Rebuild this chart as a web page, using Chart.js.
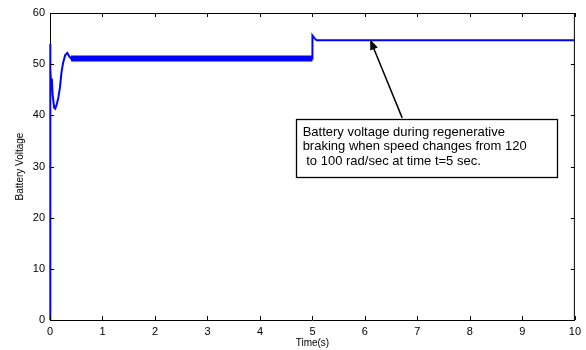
<!DOCTYPE html>
<html>
<head>
<meta charset="utf-8">
<script src="https://cdn.jsdelivr.net/npm/chart.js@4.4.0/dist/chart.umd.min.js"></script>
<style>
  html, body { margin: 0; padding: 0; background: #fff; }
  #wrap { width: 586px; height: 350px; }
</style>
</head>
<body>
<div id="wrap"><canvas id="grafico" width="586" height="350"></canvas></div>
<script>
// Datos
const tiempo  = [0, 0.002, 0.01, 0.02, 0.035, 0.05, 0.08, 0.1, 0.13, 0.16, 0.19, 0.22, 0.25, 0.29, 0.33, 0.36, 0.4, 5.0, 5.0, 5.03, 5.08, 10];
const voltaje = [0, 54, 49, 46.4, 47.2, 44, 41.5, 41.3, 42.2, 43.5, 45.5, 48.5, 50.3, 51.8, 52.2, 51.6, 51.1, 51.1, 55.6, 55.2, 54.65, 54.65];

// banda de rizado entre 0.4 y 5 s
const tiempoRizado  = [0.4, 5.0];
const voltajeRizado = [51.1, 51.1];

const ticksX = [0, 1, 2, 3, 4, 5, 6, 7, 8, 9, 10];
const ticksY = [0, 10, 20, 30, 40, 50, 60];

const textoNota = [
    'Battery voltage during regenerative',
    'braking when speed changes from 120',
    ' to 100 rad/sec at time t=5 sec.'
];
// posicion de la nota y la flecha en unidades de datos
const cajaNota = { x0: 4.68, x1: 9.66, y0: 39.3, y1: 28.0 };
const flecha = { desde: [6.71, 39.5], hasta: [6.1, 54.8] };

const FUENTE = "'Liberation Sans', Arial, sans-serif";

// Marco superior/derecho, ticks hacia dentro y la nota con flecha
const marcoPlugin = {
    id: 'marco',
    afterDatasetsDraw(chart) {
        const { ctx, chartArea: a, scales: { x, y } } = chart;
        ctx.save();
        ctx.strokeStyle = '#000';
        ctx.lineWidth = 1;
        ctx.beginPath();
        ctx.moveTo(a.left, a.top + 0.5);
        ctx.lineTo(a.right, a.top + 0.5);
        ctx.moveTo(a.right - 0.5, a.top);
        ctx.lineTo(a.right - 0.5, a.bottom);
        ticksX.forEach(v => {
            const px = Math.round(x.getPixelForValue(v)) + 0.5;
            ctx.moveTo(px, a.bottom); ctx.lineTo(px, a.bottom - 4);
            ctx.moveTo(px, a.top); ctx.lineTo(px, a.top + 4);
        });
        ticksY.forEach(v => {
            const py = Math.round(y.getPixelForValue(v)) + 0.5;
            ctx.moveTo(a.left, py); ctx.lineTo(a.left + 4, py);
            ctx.moveTo(a.right, py); ctx.lineTo(a.right - 4, py);
        });
        ctx.stroke();

        // nota
        const bx0 = x.getPixelForValue(cajaNota.x0), bx1 = x.getPixelForValue(cajaNota.x1);
        const by0 = y.getPixelForValue(cajaNota.y0), by1 = y.getPixelForValue(cajaNota.y1);
        ctx.fillStyle = '#fff';
        ctx.fillRect(bx0, by0, bx1 - bx0, by1 - by0);
        ctx.lineWidth = 1.3;
        ctx.strokeRect(Math.round(bx0) + 0.5, Math.round(by0) + 0.5, Math.round(bx1 - bx0), Math.round(by1 - by0));
        ctx.fillStyle = '#000';
        ctx.font = '13px ' + FUENTE;
        ctx.textBaseline = 'middle';
        textoNota.forEach((t, i) => ctx.fillText(t, bx0 + 7, by0 + 13.5 + i * 14.5));

        // flecha
        const fx0 = x.getPixelForValue(flecha.desde[0]), fy0 = y.getPixelForValue(flecha.desde[1]);
        const fx1 = x.getPixelForValue(flecha.hasta[0]), fy1 = y.getPixelForValue(flecha.hasta[1]);
        const ang = Math.atan2(fy1 - fy0, fx1 - fx0);
        ctx.lineWidth = 1.5;
        ctx.beginPath();
        ctx.moveTo(fx0, fy0);
        ctx.lineTo(fx1 - 6 * Math.cos(ang), fy1 - 6 * Math.sin(ang));
        ctx.stroke();
        ctx.beginPath();
        ctx.moveTo(fx1, fy1);
        ctx.lineTo(fx1 - 11 * Math.cos(ang - 0.38), fy1 - 11 * Math.sin(ang - 0.38));
        ctx.lineTo(fx1 - 11 * Math.cos(ang + 0.38), fy1 - 11 * Math.sin(ang + 0.38));
        ctx.closePath();
        ctx.fill();
        ctx.restore();
    }
};

new Chart(document.getElementById('grafico').getContext('2d'), {
    type: 'line',
    data: {
        datasets: [
            {
                label: 'Battery Voltage',
                data: tiempo.map((t, i) => ({ x: t, y: voltaje[i] })),
                borderColor: '#0000ff',
                borderWidth: 2,
                pointRadius: 0,
                tension: 0,
                clip: 4
            },
            {
                label: 'rizado',
                data: tiempoRizado.map((t, i) => ({ x: t, y: voltajeRizado[i] })),
                borderColor: '#0000ff',
                borderWidth: 6,
                pointRadius: 0,
                tension: 0
            }
        ]
    },
    options: {
        responsive: false,
        animation: false,
        devicePixelRatio: 1,
        layout: { padding: { top: 13, right: 7, left: 0, bottom: 0 } },
        plugins: {
            legend: { display: false },
            tooltip: { enabled: false }
        },
        scales: {
            x: {
                type: 'linear',
                min: 0,
                max: 10,
                afterFit: s => { s.height = 30; },
                afterBuildTicks: s => { s.ticks = ticksX.map(v => ({ value: v })); },
                grid: { drawOnChartArea: false, drawTicks: false },
                border: { display: true, color: '#000', width: 1 },
                ticks: { padding: 5, color: '#000', font: { family: FUENTE, size: 11 }, maxRotation: 0 },
                title: { display: true, text: 'Time(s)', color: '#000', font: { family: FUENTE, size: 10 }, padding: { top: 0, bottom: 1 } }
            },
            y: {
                min: 0,
                max: 60,
                afterFit: s => { s.width = 50; },
                afterBuildTicks: s => { s.ticks = ticksY.map(v => ({ value: v })); },
                grid: { drawOnChartArea: false, drawTicks: false },
                border: { display: true, color: '#000', width: 1 },
                ticks: { padding: 5, color: '#000', font: { family: FUENTE, size: 11 } },
                title: { display: true, text: 'Battery Voltage', color: '#000', font: { family: FUENTE, size: 10 }, padding: { top: 14, bottom: 0 } }
            }
        }
    },
    plugins: [marcoPlugin]
});
</script>
</body>
</html>
